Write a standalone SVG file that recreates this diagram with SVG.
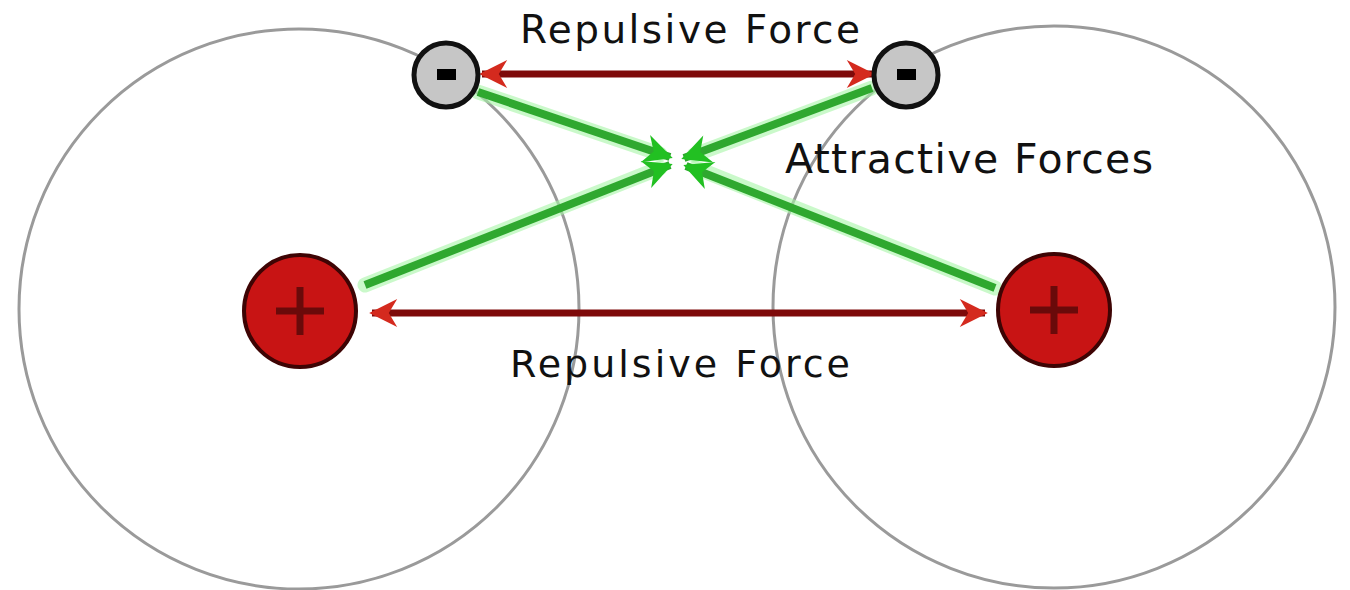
<svg xmlns="http://www.w3.org/2000/svg" width="1350" height="590" viewBox="0 0 1350 590">
<defs>
<marker id="redHead" viewBox="0 0 10 10" refX="9" refY="5" markerWidth="5" markerHeight="4" orient="auto-start-reverse" markerUnits="strokeWidth">
<path d="M0,0 L10,5 L0,10 L3,5 Z" fill="#d42a1e"/>
</marker>
<marker id="greenHead" viewBox="0 0 10 10" refX="9" refY="5" markerWidth="4" markerHeight="3.6" orient="auto" markerUnits="strokeWidth">
<path d="M0,0 L10,5 L0,10 L3,5 Z" fill="#22c022"/>
</marker>
<style>
.orbit{fill:none;stroke:#9a9a9a;stroke-width:3}
.electron{fill:#c6c6c6;stroke:#111;stroke-width:5}
.proton{fill:#c81414;stroke:#3e0404;stroke-width:4}
.plus{stroke:#6a0a0a;stroke-width:7;fill:none}
.rep{stroke:#7e0a0a;stroke-width:7;fill:none}
.glow{stroke:#a6f5a6;stroke-width:15;fill:none;stroke-linecap:round;opacity:0.6}
.att{stroke:#2fa82f;stroke-width:8;fill:none}
.lbl{font-family:"DejaVu Sans",sans-serif;fill:#111}
</style>
</defs>
<rect width="1350" height="590" fill="#ffffff"/>
<g id="orbits">
<circle class="orbit" cx="299" cy="309" r="280"/>
<circle class="orbit" cx="1054" cy="307" r="281"/>
</g>
<g id="connectors">
<line class="rep" x1="482" y1="74" x2="872" y2="74" marker-start="url(#redHead)" marker-end="url(#redHead)"/>
<line class="rep" x1="372" y1="313" x2="985" y2="313" marker-start="url(#redHead)" marker-end="url(#redHead)"/>
<line class="glow" x1="478" y1="92" x2="660" y2="154"/>
<line class="glow" x1="872" y1="88" x2="694" y2="155"/>
<line class="glow" x1="365" y1="285" x2="660" y2="168"/>
<line class="glow" x1="995" y1="288" x2="696" y2="168"/>
<line class="att" x1="478" y1="92" x2="670" y2="157" marker-end="url(#greenHead)"/>
<line class="att" x1="872" y1="88" x2="684" y2="158" marker-end="url(#greenHead)"/>
<line class="att" x1="365" y1="285" x2="670" y2="165" marker-end="url(#greenHead)"/>
<line class="att" x1="995" y1="288" x2="686" y2="166" marker-end="url(#greenHead)"/>
</g>
<g id="electron-left">
<circle class="electron" cx="446" cy="75" r="32"/>
<rect x="437" y="69" width="19" height="11" fill="#000"/>
</g>
<g id="electron-right">
<circle class="electron" cx="906" cy="75" r="32"/>
<rect x="897" y="69" width="19" height="11" fill="#000"/>
</g>
<g id="proton-left">
<circle class="proton" cx="300" cy="311" r="56"/>
<path class="plus" d="M276,311 H324 M300,287 V335"/>
</g>
<g id="proton-right">
<circle class="proton" cx="1054" cy="310" r="56"/>
<path class="plus" d="M1030,310 H1078 M1054,286 V334"/>
</g>
<g id="labels">
<text class="lbl" x="520" y="43" font-size="39" textLength="340" lengthAdjust="spacing">Repulsive Force</text>
<text class="lbl" x="785" y="173" font-size="41" textLength="368" lengthAdjust="spacing">Attractive Forces</text>
<text class="lbl" x="510" y="377" font-size="38" textLength="340" lengthAdjust="spacing">Repulsive Force</text>
</g>
</svg>
